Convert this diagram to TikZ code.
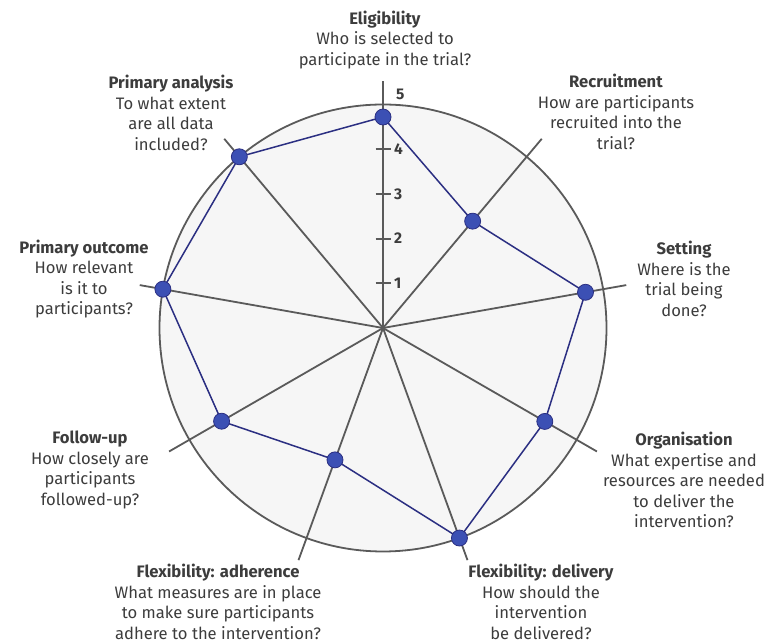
\documentclass[tikz,border=0pt]{standalone}
\usepackage{fontspec}
\setmainfont{Fira Sans}
\usetikzlibrary{calc}
\definecolor{txt}{HTML}{3C3C3C}
\definecolor{spoke}{HTML}{5A5A5A}
\definecolor{wheel}{HTML}{F6F6F6}
\definecolor{navy}{HTML}{2B2F82}
\definecolor{dotblue}{HTML}{3C50B4}
\tikzset{
  lbl/.style={align=center, text=txt, font=\fontsize{16.6}{20.5}\selectfont, inner sep=0pt},
  spokeline/.style={draw=spoke, line width=1.8pt},
  tickline/.style={draw=spoke, line width=2pt},
  dot/.style={circle, fill=dotblue, draw=navy, line width=0.8pt, minimum size=16pt, inner sep=0pt},
  poly/.style={draw=navy, line width=1.5pt, line join=round},
  ticklbl/.style={text=txt, font=\fontsize{15.5}{15.5}\selectfont\bfseries, inner sep=0pt},
}
\begin{document}
\begin{tikzpicture}[x=1pt,y=1pt]
\useasboundingbox (0,0) rectangle (766,642);
\def\u{44.7}
\coordinate (C) at (383,314);
% wheel
\fill[wheel] (C) circle (223.5);
% spokes
\foreach \a [count=\i] in {90,50,10,-30,-70,-110,-150,170,130} {
  \coordinate (s\i) at ($(C)+(\a:247)$);
  \draw[spokeline] (C) -- (s\i);
}
\draw[draw=spoke, line width=1.8pt] (C) circle (223.5);
% ticks
\foreach \k in {1,2,3,4} {
  \coordinate (t\k) at ($(C)+(0,\k*\u)$);
  \draw[tickline] ($(t\k)+(-7.5,0)$) -- ($(t\k)+(7.5,0)$);
  \node[ticklbl, anchor=west] (tl\k) at ($(t\k)+(11,0)$) {\k};
}
\node[ticklbl, anchor=west] (tl5) at ($(C)+(13,5*\u+10)$) {5};
% data
\foreach \a/\v [count=\i] in {90/4.72,50/3.12,10/4.6,-30/4.18,-70/5.0,-110/3.14,-150/4.17,170/5.0,130/5.0} {
  \coordinate (q\i) at ($(C)+(\a:\v*\u)$);
}
\draw[poly] (q1) -- (q2) -- (q3) -- (q4) -- (q5) -- (q6) -- (q7) -- (q8) -- (q9) -- cycle;
\foreach \i in {1,...,9} { \node[dot] (p\i) at (q\i) {}; }
% labels
\node[lbl] (L1) at (385,602) {\textbf{Eligibility}\\Who is selected to\\participate in the trial?};
\node[lbl] (L2) at (616,530) {\textbf{Recruitment}\\How are participants\\recruited into the\\trial?};
\node[lbl] (L3) at (684,363) {\textbf{Setting}\\Where is the\\trial being\\done?};
\node[lbl] (L4) at (684,162) {\textbf{Organisation}\\What expertise and\\resources are needed\\to deliver the\\intervention?};
\node[lbl] (L5) at (541,40) {\textbf{Flexibility: delivery}\\How should the\\intervention\\be delivered?};
\node[lbl] (L6) at (218,40) {\textbf{Flexibility: adherence}\\What measures are in place\\to make sure participants\\adhere to the intervention?};
\node[lbl] (L7) at (90,172) {\textbf{Follow-up}\\How closely are\\participants\\followed-up?};
\node[lbl] (L8) at (84,363) {\textbf{Primary outcome}\\How relevant\\is it to\\participants?};
\node[lbl] (L9) at (171,529) {\textbf{Primary analysis}\\To what extent\\are all data\\included?};
\end{tikzpicture}
\end{document}
